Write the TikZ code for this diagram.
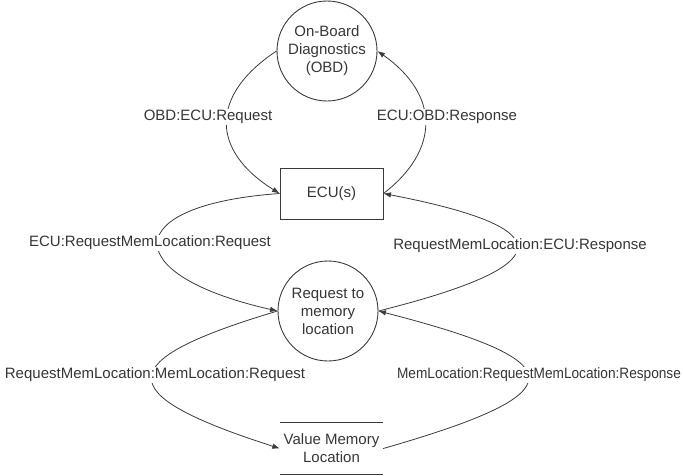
\documentclass[tikz,border=0pt]{standalone}
\usepackage{graphicx}
\usepackage{fontspec}
\setmainfont{Liberation Sans}
\usetikzlibrary{arrows.meta}
\definecolor{inkgray}{HTML}{363636}
\definecolor{linegray}{HTML}{3A3A3A}
\begin{document}
\begin{tikzpicture}[x=1pt,y=-1pt,
  every node/.style={font=\fontsize{15}{18}\selectfont, text=inkgray},
  process/.style={circle, draw=linegray, line width=0.9pt, minimum size=100pt, inner sep=0pt, align=center},
  entity/.style={rectangle, draw=linegray, line width=0.9pt, minimum width=103pt, minimum height=51pt, inner sep=0pt, align=center},
  store/.style={rectangle, minimum width=103pt, minimum height=51pt, inner sep=0pt, align=center},
  flow/.style={draw=linegray, line width=0.8pt, -{Latex[length=7.5pt,width=5.5pt]}},
  flowlabel/.style={fill=white, inner sep=1.5pt}]
\useasboundingbox (0,0) rectangle (683,475);

% processes, entity and data store
\node[process] (obd) at (327,51) {On-Board\\Diagnostics\\(OBD)};
\node[entity]  (ecu) at (331.5,193.5) {ECU(s)};
\node[process] (req) at (328,311) {Request to\\memory\\location};
\node[store]   (vml) at (331.5,448.5) {Value Memory\\Location};
\draw[linegray, line width=0.9pt] (vml.north west) -- (vml.north east);
\draw[linegray, line width=0.9pt] (vml.south west) -- (vml.south east);

% data flows
\draw[flow] (obd.west) .. controls (210,95) and (210,150) .. (ecu.west);
\draw[flow] (ecu.east) .. controls (440,150) and (440,95) .. (obd.east);
\draw[flow] (ecu.west) .. controls (118,205) and (118,275) .. (req.west);
\draw[flow] (req.east) .. controls (562,265) and (562,228) .. (ecu.east);
\draw[flow] (req.west) .. controls (110,361) and (110,394) .. (vml.west);
\draw[flow] (vml.east) .. controls (577,393) and (577,362) .. (req.east);

% flow labels
\node[flowlabel] (l1) at (208,117) {OBD:ECU:Request};
\node[flowlabel] (l2) at (447,117) {ECU:OBD:Response};
\node[flowlabel] (l3) at (150,243) {ECU:RequestMemLocation:Request};
\node[flowlabel] (l4) at (520,246) {RequestMemLocation:ECU:Response};
\node[flowlabel] (l5) at (155,375) {RequestMemLocation:MemLocation:Request};
\node[flowlabel] (l6) at (539,375) {\scalebox{0.91}[1]{MemLocation:RequestMemLocation:Response}};
\end{tikzpicture}
\end{document}
